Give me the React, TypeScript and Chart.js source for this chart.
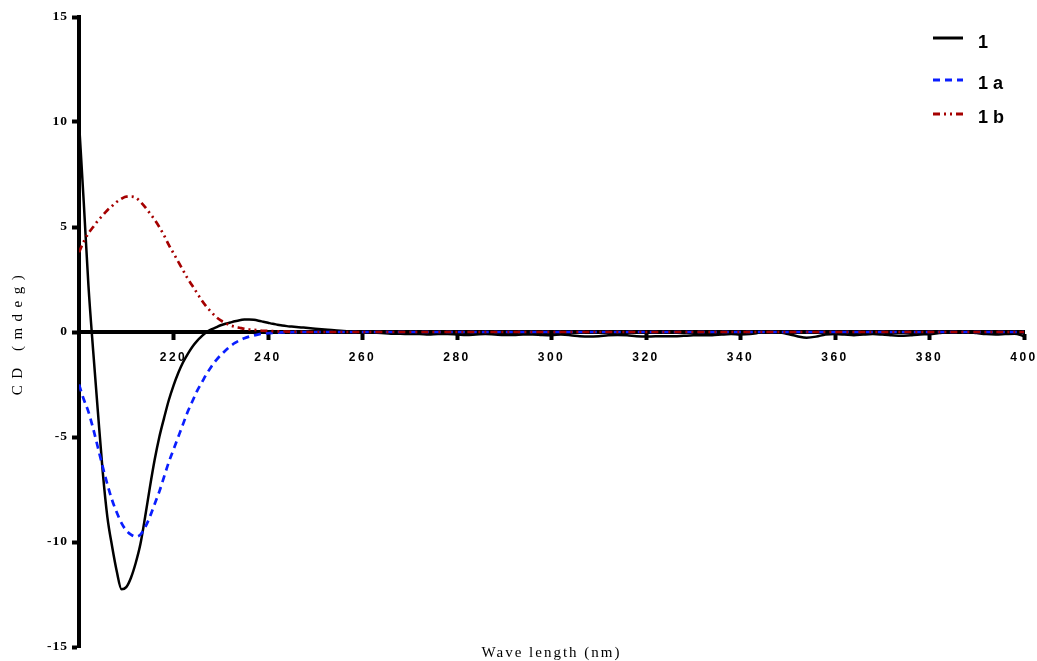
import React, { useEffect, useRef } from 'react';
import { Chart, registerables } from 'chart.js';

Chart.register(...registerables);

// ---------- DATA ----------
const waveMain = [
  200, 201, 202, 203, 204, 205, 206, 207, 208, 209,
  210, 211, 212, 213, 214, 215, 216, 217, 218, 219,
  220, 221, 222, 223, 224, 225, 226, 227, 228, 229,
  230, 231, 232, 233, 234, 235, 236, 237, 238, 239,
  240, 241, 242, 243, 244, 245, 246, 247, 248, 249, 250,
];

const waveTail1 = [
  252, 254, 256, 258, 260, 262, 264, 266, 268, 270,
  272, 274, 276, 278, 280, 282, 284, 286, 288, 290,
  292, 294, 296, 298, 300, 302, 304, 306, 308, 310,
  312, 314, 316, 318, 320, 322, 324, 326, 328, 330,
  332, 334, 336, 338, 340, 342, 344, 346, 348, 350,
  352, 354, 356, 358, 360, 362, 364, 366, 368, 370,
  372, 374, 376, 378, 380, 382, 384, 386, 388, 390,
  392, 394, 396, 398, 400,
];

const waveTail2 = [260, 270, 280, 290, 300, 310, 320, 330, 340, 350, 360, 370, 380, 390, 400];

// Series "1" (black, solid)
const cd1Main = [
  10.0, 6.2, 2.2, -0.9, -3.8, -6.6, -8.8, -10.2, -11.4, -12.25,
  -12.15, -11.7, -11.0, -10.1, -8.8, -7.4, -6.1, -5.0, -4.1, -3.25,
  -2.55, -1.95, -1.45, -1.05, -0.7, -0.42, -0.2, 0.0, 0.12, 0.22,
  0.32, 0.39, 0.45, 0.51, 0.56, 0.59, 0.6, 0.58, 0.54, 0.49,
  0.44, 0.39, 0.35, 0.31, 0.28, 0.26, 0.24, 0.22, 0.2, 0.18, 0.16,
];
const cd1Tail = [
  0.12, 0.08, 0.05, 0.02, 0.0, -0.03, -0.05, -0.08, -0.08, -0.1,
  -0.1, -0.12, -0.1, -0.1, -0.12, -0.14, -0.12, -0.1, -0.12, -0.14,
  -0.14, -0.12, -0.12, -0.14, -0.15, -0.12, -0.15, -0.2, -0.22, -0.2,
  -0.16, -0.14, -0.16, -0.2, -0.22, -0.2, -0.2, -0.2, -0.18, -0.16,
  -0.15, -0.15, -0.12, -0.1, -0.12, -0.1, -0.03, 0.04, 0.0, -0.1,
  -0.2, -0.27, -0.22, -0.12, -0.1, -0.12, -0.15, -0.12, -0.1, -0.12,
  -0.15, -0.18, -0.15, -0.12, -0.1, -0.05, 0.0, 0.03, 0.0, -0.05,
  -0.1, -0.12, -0.1, -0.08, -0.2,
];

// Series "1 a" (blue, dashed)
const cd1aMain = [
  -2.5, -3.2, -3.8, -4.6, -5.5, -6.4, -7.25, -8.0, -8.6, -9.1,
  -9.45, -9.65, -9.75, -9.65, -9.3, -8.8, -8.2, -7.6, -6.9, -6.2,
  -5.6, -5.0, -4.4, -3.8, -3.3, -2.8, -2.4, -2.0, -1.65, -1.35,
  -1.1, -0.88, -0.68, -0.52, -0.4, -0.3, -0.22, -0.16, -0.11, -0.08,
  -0.06, -0.04, -0.03, -0.02, -0.02, -0.01, -0.01, 0.0, 0.0, 0.0, 0.0,
];
const cd1aTail = [0, 0, 0, 0, 0, 0, 0, 0, 0, 0, 0, 0, 0, 0, 0];

// Series "1 b" (dark red, dash-dot-dot)
const cd1bMain = [
  3.8, 4.3, 4.7, 5.0, 5.3, 5.55, 5.8, 6.0, 6.2, 6.35,
  6.45, 6.45, 6.4, 6.2, 5.95, 5.65, 5.35, 5.0, 4.6, 4.15,
  3.75, 3.35, 2.95, 2.55, 2.2, 1.85, 1.5, 1.2, 0.95, 0.72,
  0.55, 0.42, 0.32, 0.25, 0.2, 0.15, 0.12, 0.1, 0.08, 0.06,
  0.05, 0.04, 0.03, 0.03, 0.02, 0.02, 0.01, 0.01, 0.0, 0.0, 0.0,
];
const cd1bTail = [0, 0, 0, 0, 0, 0, 0, 0, 0, 0, 0, 0, 0, 0, 0];

const xTickValues = [220, 240, 260, 280, 300, 320, 340, 360, 380, 400];
const yTickValues = [-15, -10, -5, 0, 5, 10, 15];
const legendLabels = ['1', '1 a', '1 b'];
const seriesColors = ['#000000', '#0a1eff', '#a50000'];
const seriesDashes: number[][] = [[], [7, 5], [7, 4, 2, 4, 2, 4]];

const SERIF = "'Liberation Serif', 'Times New Roman', serif";
const SANS = "'Liberation Sans', Arial, sans-serif";

function toPoints(xs: number[], ys: number[]) {
  return xs.map((x, i) => ({ x, y: ys[i] }));
}

const letterSpacingPlugin = {
  id: 'letterSpacingPlugin',
  afterLayout(chart: any) {
    const cfg: Record<string, { labels: string; title: string }> = {
      x: { labels: '2.5px', title: '0px' },
      y: { labels: '1px', title: '6.5px' },
      x2: { labels: '0px', title: '2px' },
    };
    Object.keys(cfg).forEach((id) => {
      const s = chart.scales[id];
      if (!s || s.__lsWrapped) return;
      s.__lsWrapped = true;
      const origLabels = s.drawLabels.bind(s);
      const origTitle = s.drawTitle.bind(s);
      s.drawLabels = (area: any) => {
        const c = s.ctx;
        const prev = c.letterSpacing;
        c.letterSpacing = cfg[id].labels;
        origLabels(area);
        c.letterSpacing = prev;
      };
      s.drawTitle = (area: any) => {
        const c = s.ctx;
        const prev = c.letterSpacing;
        c.letterSpacing = cfg[id].title;
        origTitle(area);
        c.letterSpacing = prev;
      };
    });
  },
};

const customLegendPlugin = {
  id: 'customLegendPlugin',
  afterDraw(chart: any) {
    const ctx = chart.ctx;
    const lineY = [38, 80, 114];
    const textY = [48, 89, 123];
    ctx.save();
    legendLabels.forEach((label, i) => {
      ctx.beginPath();
      ctx.setLineDash(seriesDashes[i]);
      ctx.lineWidth = 3;
      ctx.strokeStyle = seriesColors[i];
      ctx.moveTo(933, lineY[i]);
      ctx.lineTo(963, lineY[i]);
      ctx.stroke();
      ctx.setLineDash([]);
      ctx.fillStyle = '#000';
      ctx.font = `bold 18px ${SANS}`;
      ctx.textAlign = 'left';
      ctx.textBaseline = 'alphabetic';
      ctx.fillText(label, 978, textY[i]);
    });
    ctx.restore();
  },
};

export default function App() {
  const canvasRef = useRef<HTMLCanvasElement | null>(null);

  useEffect(() => {
    document.body.style.margin = '0';
    const canvas = canvasRef.current;
    if (!canvas) return;

    const chart = new Chart(canvas, {
      type: 'line',
      data: {
        datasets: [
          {
            label: legendLabels[0],
            data: toPoints(waveMain.concat(waveTail1), cd1Main.concat(cd1Tail)),
            borderColor: seriesColors[0],
            backgroundColor: seriesColors[0],
            borderWidth: 2.5,
            borderDash: seriesDashes[0],
            pointRadius: 0,
            cubicInterpolationMode: 'monotone',
            fill: false,
            order: 3,
            xAxisID: 'x',
            yAxisID: 'y',
          },
          {
            label: legendLabels[1],
            data: toPoints(waveMain.concat(waveTail2), cd1aMain.concat(cd1aTail)),
            borderColor: seriesColors[1],
            backgroundColor: seriesColors[1],
            borderWidth: 2.7,
            borderDash: seriesDashes[1],
            pointRadius: 0,
            cubicInterpolationMode: 'monotone',
            fill: false,
            order: 2,
            xAxisID: 'x',
            yAxisID: 'y',
          },
          {
            label: legendLabels[2],
            data: toPoints(waveMain.concat(waveTail2), cd1bMain.concat(cd1bTail)),
            borderColor: seriesColors[2],
            backgroundColor: seriesColors[2],
            borderWidth: 2.7,
            borderDash: seriesDashes[2],
            pointRadius: 0,
            cubicInterpolationMode: 'monotone',
            fill: false,
            order: 1,
            xAxisID: 'x',
            yAxisID: 'y',
          },
        ] as any,
      },
      options: {
        animation: false,
        responsive: false,
        maintainAspectRatio: false,
        layout: { padding: { left: 0, right: 13, top: 17, bottom: 0 } },
        plugins: {
          legend: { display: false },
          tooltip: { enabled: false },
        },
        scales: {
          x: {
            type: 'linear',
            min: 200,
            max: 400,
            position: { y: 0 } as any,
            afterBuildTicks: (s: any) => {
              s.ticks = xTickValues.map((v) => ({ value: v }));
            },
            afterFit: (s: any) => {
              s.paddingLeft = 0;
              s.paddingRight = 0;
            },
            border: { display: true, color: '#000', width: 4 },
            grid: {
              display: true,
              drawOnChartArea: false,
              drawTicks: true,
              tickLength: 6,
              tickWidth: 4,
              tickColor: '#000',
            },
            ticks: {
              color: '#000',
              font: { family: SANS, size: 12, weight: 'bold' },
              padding: 12,
              maxRotation: 0,
              autoSkip: false,
              callback: (v: any) => String(v),
            },
          },
          y: {
            type: 'linear',
            min: -15,
            max: 15,
            position: 'left',
            afterBuildTicks: (s: any) => {
              s.ticks = yTickValues.map((v) => ({ value: v }));
            },
            afterFit: (s: any) => {
              s.width = 79;
              s.paddingTop = 0;
              s.paddingBottom = 0;
            },
            border: { display: true, color: '#000', width: 4 },
            grid: {
              display: true,
              drawOnChartArea: false,
              drawTicks: true,
              tickLength: 7,
              tickWidth: 4,
              tickColor: '#000',
            },
            ticks: {
              color: '#000',
              font: { family: SERIF, size: 13.5, weight: 'bold' },
              padding: 4,
              callback: (v: any) => String(v),
            },
            title: {
              display: true,
              text: 'CD (mdeg)',
              color: '#000',
              font: { family: SERIF, size: 15 },
              padding: { top: 9, bottom: 0 },
            },
          },
          x2: {
            type: 'linear',
            position: 'bottom',
            display: true,
            afterFit: (s: any) => {
              s.height = 14;
              s.paddingLeft = 0;
              s.paddingRight = 0;
            },
            grid: { display: false },
            border: { display: false },
            ticks: { display: false },
            title: {
              display: true,
              text: 'Wave length (nm)',
              color: '#000',
              font: { family: SERIF, size: 15, lineHeight: 1.0 },
              padding: { top: 0, bottom: 0 },
            },
          },
        } as any,
      },
      plugins: [letterSpacingPlugin, customLegendPlugin],
    });

    return () => {
      chart.destroy();
    };
  }, []);

  return (
    <div style={{ width: 1037, height: 661, position: 'relative' }}>
      <canvas ref={canvasRef} width={1037} height={661} style={{ display: 'block' }} />
    </div>
  );
}
